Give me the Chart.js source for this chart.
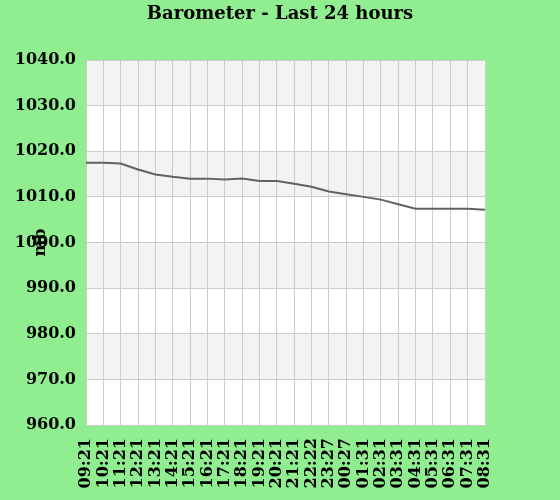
<!doctype html>
<html lang="en">
	<head>
		<meta charset="UTF-8" />
		<title>Barometer - Last 24 hours</title>
		<script src="https://cdn.jsdelivr.net/npm/chart.js"></script>
		<style>
			body {
				margin: 0;
				background: #90ee90;
			}
			#wrap {
				width: 560px;
				height: 500px;
				position: relative;
			}
		</style>
	</head>
	<body>
		<div id="wrap"><canvas id="baroChart"></canvas></div>

		<script>
			// Hourly readings (mb)
			const hours = [
				'09:21', '10:21', '11:21', '12:21', '13:21', '14:21', '15:21', '16:21',
				'17:21', '18:21', '19:21', '20:21', '21:21', '22:22', '23:27', '00:27',
				'01:31', '02:31', '03:31', '04:31', '05:31', '06:31', '07:31', '08:31'
			]
			const pressure = [
				1017.5, 1017.5, 1017.3, 1016.0, 1014.9, 1014.4, 1014.0, 1014.0,
				1013.8, 1014.0, 1013.5, 1013.5, 1012.9, 1012.2, 1011.2, 1010.6,
				1010.0, 1009.4, 1008.4, 1007.4, 1007.4, 1007.4, 1007.4, 1007.2
			]
			const yMin = 960
			const yMax = 1040
			const yStep = 10

			const fontFamily = '"DejaVu Serif", serif'

			// alternating grey / white bands behind the grid
			const bandPlugin = {
				id: 'bands',
				beforeDraw(chart) {
					const { ctx, chartArea, scales } = chart
					ctx.save()
					for (let v = yMin; v < yMax; v += yStep) {
						const top = scales.y.getPixelForValue(v + yStep)
						const bottom = scales.y.getPixelForValue(v)
						ctx.fillStyle = ((v - yMin) / yStep) % 2 === 1 ? '#f3f3f3' : '#ffffff'
						ctx.fillRect(chartArea.left, top, chartArea.right - chartArea.left, bottom - top)
					}
					ctx.restore()
				}
			}

			new Chart(document.getElementById('baroChart'), {
				type: 'line',
				data: {
					labels: hours,
					datasets: [
						{
							label: 'Barometer',
							data: pressure,
							borderColor: '#626262',
							borderWidth: 2,
							pointRadius: 0,
							tension: 0,
							fill: false
						}
					]
				},
				options: {
					responsive: true,
					maintainAspectRatio: false,
					animation: false,
					layout: { padding: 0 },
					plugins: {
						legend: { display: false },
						tooltip: { enabled: false },
						title: {
							display: true,
							text: 'Barometer - Last 24 hours',
							color: '#000',
							font: { family: fontFamily, size: 18, weight: 'bold' },
							padding: { top: 4, bottom: 34.4 }
						}
					},
					scales: {
						x: {
							offset: false,
							grid: { color: '#cccccc', drawTicks: false },
							border: { color: '#cccccc' },
							ticks: {
								autoSkip: false,
								minRotation: 90,
								maxRotation: 90,
								padding: 13,
								color: '#000',
								font: { family: fontFamily, size: 16, weight: 'bold' }
							},
							afterFit(scale) {
								scale.height = 75
							}
						},
						y: {
							min: yMin,
							max: yMax,
							grid: { color: '#cccccc', drawTicks: false },
							border: { color: '#cccccc' },
							title: {
								display: true,
								text: 'mb',
								color: '#000',
								font: { family: fontFamily, size: 16, weight: 'bold' },
								padding: { top: 31, bottom: 0 }
							},
							ticks: {
								stepSize: yStep,
								padding: 10,
								color: '#000',
								font: { family: fontFamily, size: 16, weight: 'bold' },
								callback: (v) => Number(v).toFixed(1)
							},
							afterFit(scale) {
								scale.width = 86
							}
						},
						// empty right margin so the title stays centred on the page
						yRight: {
							position: 'right',
							min: yMin,
							max: yMax,
							grid: { display: false, drawTicks: false },
							border: { display: false },
							ticks: { display: false },
							afterFit(scale) {
								scale.width = 75
							}
						}
					}
				},
				plugins: [bandPlugin]
			})
		</script>
	</body>
</html>
